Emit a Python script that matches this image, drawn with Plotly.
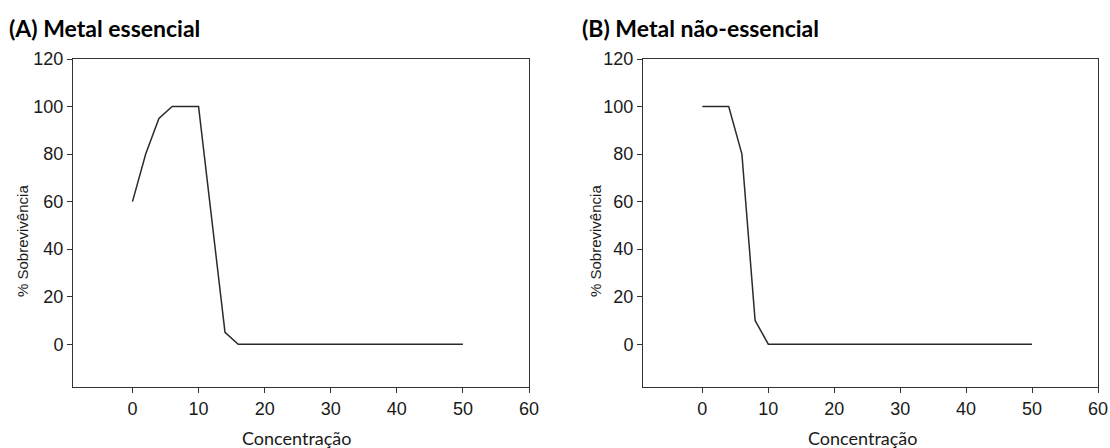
import plotly.graph_objects as go

# Survival (%) versus concentration for an essential and a non-essential metal
conc_a = [0, 2, 4, 6, 10, 14, 16, 50]
surv_a = [60, 80, 95, 100, 100, 5, 0, 0]

conc_b = [0, 4, 6, 8, 10, 50]
surv_b = [100, 100, 80, 10, 0, 0]

x_ticks = [0, 10, 20, 30, 40, 50, 60]
y_ticks = [0, 20, 40, 60, 80, 100, 120]

panel_titles = ["(A) Metal essencial", "(B) Metal não-essencial"]
x_title = "Concentração"
y_title = "% Sobrevivência"

W, H = 1110, 448
AX = "#333333"
TXT = "#1a1a1a"


def px(x):
    return x / W


def py(y):
    return 1 - y / H


fig = go.Figure()
fig.add_trace(go.Scatter(x=conc_a, y=surv_a, mode="lines",
                         line=dict(color="#2b2b2b", width=1.5),
                         xaxis="x", yaxis="y", showlegend=False))
fig.add_trace(go.Scatter(x=conc_b, y=surv_b, mode="lines",
                         line=dict(color="#2b2b2b", width=1.5),
                         xaxis="x2", yaxis="y2", showlegend=False))

tick_font = dict(family="Liberation Sans, Arial", size=18, color=TXT)
common_x = dict(range=[-9, 60], tickvals=x_ticks, ticks="outside", ticklen=5,
                tickcolor=AX, tickwidth=1, showline=True, linecolor=AX,
                linewidth=1, mirror=True, showgrid=False, zeroline=False,
                tickfont=tick_font, automargin=False)
common_y = dict(range=[-18, 120], tickvals=y_ticks, ticks="outside", ticklen=5,
                tickcolor=AX, tickwidth=1, showline=True, linecolor=AX,
                linewidth=1, mirror=True, showgrid=False, zeroline=False,
                tickfont=tick_font, automargin=False)

dom_y = [py(387), py(59)]
fig.update_layout(
    width=W, height=H,
    autosize=False,
    showlegend=False,
    margin=dict(l=0, r=0, t=0, b=0, pad=0, autoexpand=False),
    paper_bgcolor="white", plot_bgcolor="white",
    xaxis=dict(domain=[px(73), px(529)], anchor="y", **common_x),
    yaxis=dict(domain=dom_y, anchor="x", **common_y),
    xaxis2=dict(domain=[px(643), px(1098)], anchor="y2", **common_x),
    yaxis2=dict(domain=dom_y, anchor="x2", **common_y),
)

title_font = dict(family="Lato", size=23, color="black")
label_font = dict(family="Lato", size=18, color=TXT)
ytitle_font = dict(family="Liberation Sans, Arial", size=15, color=TXT)

annotations = [
    dict(text="<b>" + panel_titles[0] + "</b>", x=px(7), y=py(28),
         xanchor="left", yanchor="middle", font=title_font),
    dict(text="<b>" + panel_titles[1] + "</b>", x=px(580), y=py(28),
         xanchor="left", yanchor="middle", font=title_font),
    dict(text=x_title, x=px(297), y=py(438), xanchor="center",
         yanchor="middle", font=label_font),
    dict(text=x_title, x=px(863), y=py(438), xanchor="center",
         yanchor="middle", font=label_font),
    dict(text=y_title, x=px(22), y=py(241), textangle=-90, xanchor="center",
         yanchor="middle", font=ytitle_font),
    dict(text=y_title, x=px(595), y=py(241), textangle=-90, xanchor="center",
         yanchor="middle", font=ytitle_font),
]
for a in annotations:
    a.update(xref="paper", yref="paper", showarrow=False)
fig.update_layout(annotations=annotations)

fig.write_html("out.html", config={"displayModeBar": False})
